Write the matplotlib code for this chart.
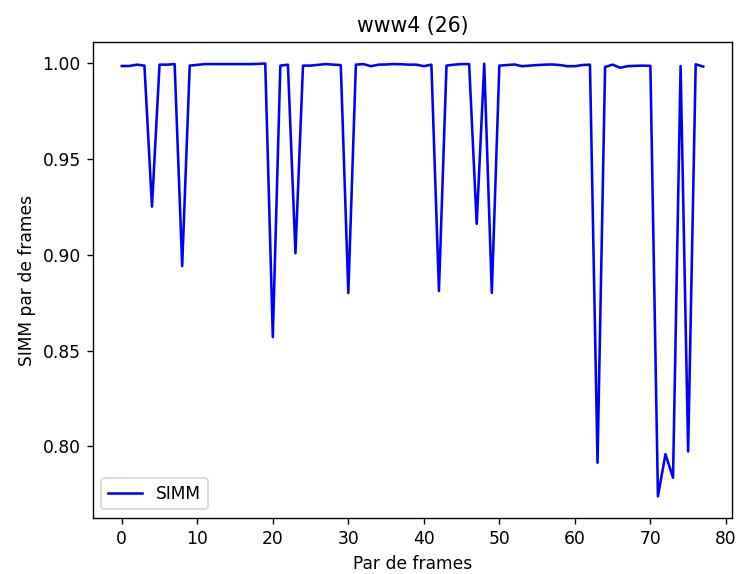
import matplotlib
matplotlib.use('Agg')
import matplotlib.pyplot as plt

# SIMM value for each frame pair
simm = [
    0.9983, 0.9983, 0.9990, 0.9985, 0.925, 0.9990, 0.9990, 0.9993, 0.894, 0.9985,
    0.9989, 0.9993, 0.9993, 0.9993, 0.9993, 0.9993, 0.9993, 0.9993, 0.9994, 0.9996,
    0.857, 0.9985, 0.9990, 0.9007, 0.9985, 0.9985, 0.9989, 0.9993, 0.9990, 0.9988,
    0.880, 0.9990, 0.9993, 0.9982, 0.9990, 0.9991, 0.9993, 0.9992, 0.9990, 0.9990,
    0.9982, 0.9990, 0.881, 0.9985, 0.9990, 0.9993, 0.9993, 0.916, 0.9995, 0.880,
    0.9985, 0.9988, 0.9991, 0.9982, 0.9985, 0.9988, 0.9990, 0.9991, 0.9988, 0.9982,
    0.9982, 0.9988, 0.9990, 0.7915, 0.9978, 0.9990, 0.9974, 0.9982, 0.9984, 0.9985,
    0.9984, 0.774, 0.796, 0.7837, 0.9983, 0.7974, 0.9992, 0.9980,
]
frames = list(range(len(simm)))

# the reference looks like a default figure rendered a bit larger
fig = plt.figure(figsize=(6.0, 4.667), dpi=123)
ax = fig.add_subplot(1, 1, 1)
plt.subplots_adjust(left=0.1256, right=0.9923, top=0.927, bottom=0.0976)

ax.plot(frames, simm, 'b-', label='SIMM')
ax.set_title('www4 (26)')
ax.set_xlabel('Par de frames')
ax.set_ylabel('SIMM par de frames')
ax.legend(loc='lower left')

fig.savefig('out.png', dpi=123)
